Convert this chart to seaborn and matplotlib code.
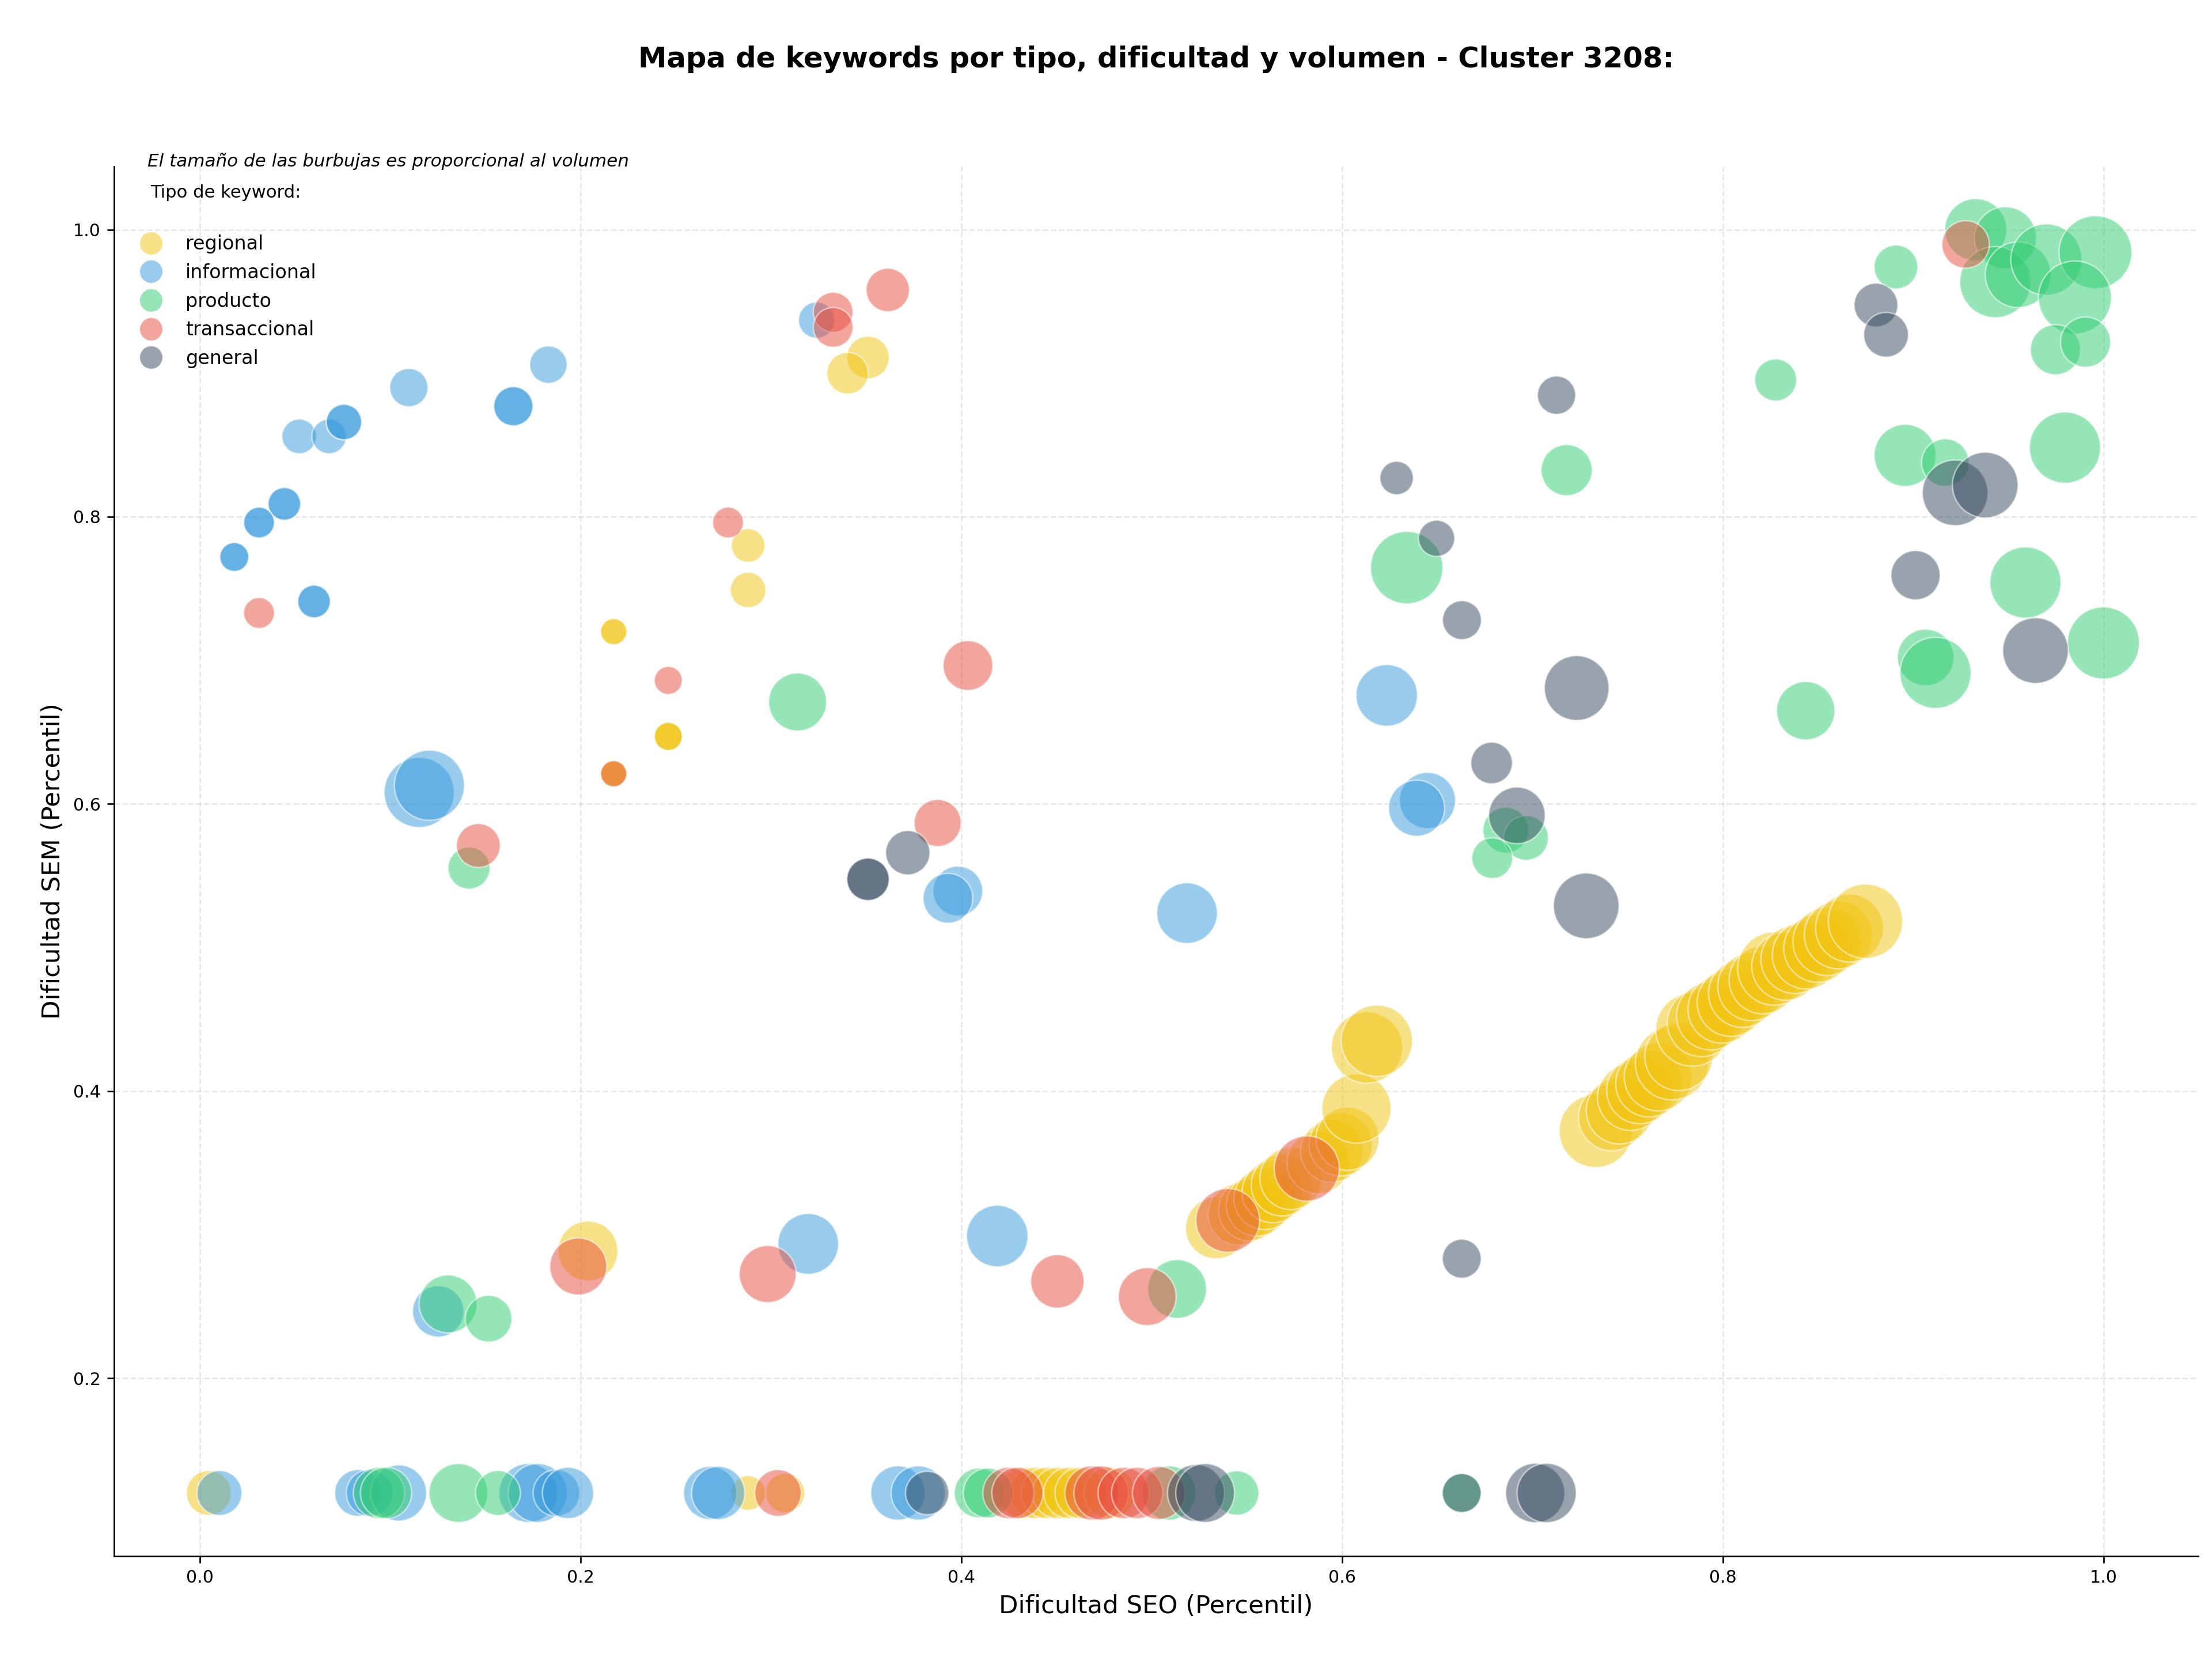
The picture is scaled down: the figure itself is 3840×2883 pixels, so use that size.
import matplotlib
matplotlib.use("Agg")
import matplotlib.pyplot as plt
from matplotlib.lines import Line2D
import seaborn as sns
import pandas as pd

# ---------------- data ----------------
tipos = ["regional", "informacional", "producto", "transaccional", "general"]
colores = ["#F1C40F", "#3498DB", "#2ECC71", "#E74C3C", "#34495E"]

regional_x = [0.288, 0.288, 0.2174, 0.2174, 0.2461, 0.2461, 0.2461, 0.2174, 0.2174,
              0.351, 0.3403, 0.2039,
              0.0047, 0.288, 0.3075, 0.4331, 0.4390, 0.4449, 0.4509, 0.4568, 0.4627, 0.4780,
              0.534, 0.5459, 0.5514, 0.5554, 0.5594, 0.5637, 0.5685, 0.5732, 0.5875, 0.5946,
              0.5993, 0.6029, 0.6076, 0.6131, 0.6183,
              0.7333, 0.7417, 0.7458, 0.7517, 0.7565, 0.7613, 0.7661, 0.7733, 0.7769, 0.7840,
              0.7888, 0.7936, 0.7996, 0.8044, 0.8104, 0.8152, 0.8212, 0.8271, 0.8331, 0.8379,
              0.8439, 0.8499, 0.8547, 0.8607, 0.8666, 0.8750]
regional_y = [0.780, 0.749, 0.720, 0.720, 0.647, 0.647, 0.647, 0.621, 0.621,
              0.911, 0.900, 0.2886,
              0.12, 0.12, 0.12, 0.12, 0.12, 0.12, 0.12, 0.12, 0.12, 0.12,
              0.3046, 0.3140, 0.3171, 0.3203, 0.3250, 0.3297, 0.3344, 0.3391, 0.3501, 0.3580,
              0.3627, 0.3668, 0.3878, 0.4303, 0.4350,
              0.3722, 0.3816, 0.3863, 0.3957, 0.4004, 0.4051, 0.4098, 0.4193, 0.4240, 0.4428,
              0.4476, 0.4523, 0.4570, 0.4617, 0.4680, 0.4727, 0.4774, 0.4853, 0.4869, 0.4916,
              0.4947, 0.4994, 0.5041, 0.5088, 0.5135, 0.5183]
regional_vol = [306, 341, 185, 185, 213, 213, 213, 185, 185,
                489, 469, 968,
                545, 323, 416, 713, 713, 713, 713, 713, 713, 713,
                1030, 1030, 1030, 1030, 1030, 1030, 1030, 1050, 1050, 1050,
                1080, 1080, 1300, 1380, 1380,
                1450, 1200, 1200, 1200, 1200, 1200, 1250, 1450, 1250, 1450,
                1250, 1250, 1250, 1250, 1250, 1250, 1250, 1450, 1250, 1250,
                1250, 1250, 1250, 1250, 1250, 1500]

informacional_x = [0.1098, 0.1647, 0.1647, 0.1831, 0.0522, 0.0679, 0.0757, 0.0757,
                   0.0444, 0.0444, 0.0311, 0.0311, 0.0181, 0.0181, 0.0600, 0.0600,
                   0.1152, 0.1206, 0.324, 0.6235, 0.6449, 0.6392, 0.3982, 0.393, 0.5186,
                   0.1252, 0.3196, 0.4189,
                   0.0103, 0.0831, 0.0892, 0.1044, 0.1725, 0.1775, 0.1873, 0.1934,
                   0.2681, 0.2723, 0.3667, 0.3774]
informacional_y = [0.890, 0.877, 0.877, 0.906, 0.856, 0.856, 0.866, 0.866,
                   0.809, 0.809, 0.796, 0.796, 0.772, 0.772, 0.741, 0.741,
                   0.608, 0.613, 0.937, 0.6756, 0.6024, 0.597, 0.5393, 0.5343, 0.5239,
                   0.2465, 0.2935, 0.299,
                   0.12, 0.12, 0.12, 0.12, 0.12, 0.12, 0.12, 0.12,
                   0.12, 0.12, 0.12, 0.12]
informacional_vol = [397, 416, 416, 378, 324, 324, 341, 341,
                     289, 289, 257, 257, 227, 227, 289, 289,
                     1329, 1329, 355, 1024, 852, 852, 670, 670, 994,
                     713, 998, 1024,
                     545, 590, 590, 850, 937, 937, 590, 713,
                     767, 767, 797, 797]

producto_x = [0.314, 0.1414, 0.634, 0.718, 0.8278, 0.891, 0.9329, 0.9485, 0.9432, 0.9552,
              0.970, 0.9958, 0.985, 0.9748, 0.9906, 0.8958, 0.9169, 0.9798, 0.959, 0.9066,
              0.9118, 1.0, 0.8436, 0.686, 0.6967, 0.6789, 0.1304, 0.1517, 0.5134,
              0.0941, 0.0978, 0.1358, 0.1566, 0.4094, 0.4141, 0.5091, 0.5447, 0.6629]
producto_y = [0.671, 0.5553, 0.7646, 0.8325, 0.8953, 0.974, 1.0, 0.9943, 0.9635, 0.9686,
              0.9792, 0.9843, 0.9528, 0.9164, 0.9217, 0.8428, 0.8378, 0.8482, 0.7542, 0.702,
              0.6913, 0.7121, 0.6649, 0.5817, 0.5763, 0.5622, 0.2517, 0.2414, 0.2621,
              0.12, 0.12, 0.12, 0.12, 0.12, 0.12, 0.12, 0.12, 0.12]
producto_vol = [908, 478, 1418, 706, 477, 519, 1041, 1041, 1370, 1167,
                1370, 1441, 1441, 681, 681, 1041, 609, 1370, 1370, 865,
                1370, 1405, 922, 562, 541, 449, 908, 590, 936,
                713, 713, 937, 545, 670, 670, 797, 532, 410]

transaccional_x = [0.0311, 0.2775, 0.2461, 0.2174, 0.1463, 0.3327, 0.3327, 0.3614, 0.4035,
                   0.3876, 0.9276, 0.2983, 0.1988, 0.4505, 0.4977, 0.540, 0.5815,
                   0.3037, 0.4248, 0.4295, 0.4687, 0.4734, 0.4853, 0.4924, 0.5038]
transaccional_y = [0.733, 0.796, 0.686, 0.621, 0.571, 0.9425, 0.932, 0.958, 0.6964,
                   0.5867, 0.9897, 0.2725, 0.2778, 0.2674, 0.2568, 0.3099, 0.346,
                   0.12, 0.12, 0.12, 0.12, 0.12, 0.12, 0.12, 0.12]
transaccional_vol = [257, 257, 213, 185, 521, 429, 429, 510, 670,
                     599, 609, 879, 879, 771, 907, 1100, 1150,
                     590, 713, 713, 797, 797, 713, 713, 760]

general_x = [0.6287, 0.6497, 0.663, 0.6786, 0.3719, 0.351, 0.351, 0.7127, 0.7233, 0.8805,
             0.8858, 0.9221, 0.9379, 0.9013, 0.9643, 0.6919, 0.7283, 0.6629,
             0.3821, 0.5233, 0.5281, 0.6629, 0.7015, 0.7075]
general_y = [0.827, 0.785, 0.728, 0.6285, 0.566, 0.5475, 0.5475, 0.8847, 0.6807, 0.9475,
             0.9268, 0.8167, 0.8221, 0.7593, 0.7068, 0.592, 0.529, 0.2832,
             0.12, 0.12, 0.12, 0.12, 0.12, 0.12]
general_vol = [303, 355, 410, 469, 532, 489, 489, 397, 1135, 519,
               541, 1167, 1167, 656, 1167, 865, 1167, 410,
               510, 879, 936, 410, 951, 951]

titulo = "Mapa de keywords por tipo, dificultad y volumen - Cluster 3208:"
subtitulo = "El tamaño de las burbujas es proporcional al volumen"
leyenda_titulo = "Tipo de keyword:"
xlabel = "Dificultad SEO (Percentil)"
ylabel = "Dificultad SEM (Percentil)"

# ---------------- table ----------------
series = {
    "regional": (regional_x, regional_y, regional_vol),
    "informacional": (informacional_x, informacional_y, informacional_vol),
    "producto": (producto_x, producto_y, producto_vol),
    "transaccional": (transaccional_x, transaccional_y, transaccional_vol),
    "general": (general_x, general_y, general_vol),
}
frames = []
for t in tipos:
    xs, ys, vs = series[t]
    frames.append(pd.DataFrame({"seo": xs, "sem": ys, "volumen": vs, "tipo": t}))
df = pd.concat(frames, ignore_index=True)
palette = dict(zip(tipos, colores))

vmin, vmax = df["volumen"].min(), df["volumen"].max()

# ---------------- plot ----------------
fig = plt.figure(figsize=(16, 2883 / 240), dpi=240)
ax = fig.add_axes([198 / 3840, (2883 - 2701) / 2883, (3816 - 198) / 3840, (2701 - 289) / 2883])

sns.scatterplot(data=df, x="seo", y="sem", hue="tipo", hue_order=tipos, palette=palette,
                size="volumen", sizes=(vmin, vmax), size_norm=(vmin, vmax),
                alpha=0.5, edgecolor="white", linewidth=0.8, legend=False, ax=ax, zorder=3)

ax.grid(True, linestyle="--", linewidth=0.8, color="#b0b0b0", alpha=0.3, zorder=0)
ax.set_axisbelow(True)
sns.despine(ax=ax)
ax.tick_params(labelsize=9)
ax.set_xlabel(xlabel, fontsize=13)
ax.set_ylabel(ylabel, fontsize=13)

fig.text(0.5227, 1 - 103 / 2883, titulo, ha="center", va="center", fontsize=14.9, fontweight="bold")
ax.text(0.016, 1.0037, subtitulo, transform=ax.transAxes, ha="left", va="center",
        fontsize=9.3, fontstyle="italic")
ax.text(0.0174, 0.981, leyenda_titulo, transform=ax.transAxes, ha="left", va="center", fontsize=9.2)

handles = [Line2D([0], [0], marker="o", linestyle="none", markerfacecolor=c, markeredgecolor="white",
                  markeredgewidth=0.5, alpha=0.5, markersize=12) for c in colores]
ax.legend(handles, tipos, loc="upper left", bbox_to_anchor=(0.0085, 0.951), borderaxespad=0,
          borderpad=0, frameon=False, fontsize=10, labelspacing=0.5)

fig.savefig("out.png", dpi=240)
